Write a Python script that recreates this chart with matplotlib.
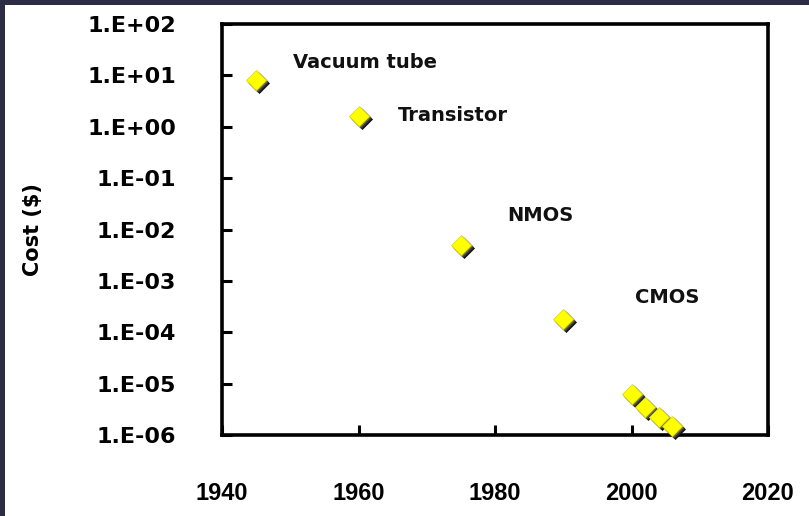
import matplotlib
matplotlib.use("Agg")
import matplotlib.pyplot as plt
import matplotlib.transforms as mtransforms
from matplotlib.patches import Rectangle
import numpy as np

# cost per device over time
years = [1945, 1960, 1975, 1990, 2000, 2002, 2004, 2006]
costs = [8.0, 1.6, 5.0e-3, 1.8e-4, 6.3e-6, 3.5e-6, 2.2e-6, 1.5e-6]

labels = ["Vacuum tube", "Transistor", "NMOS", "CMOS"]
label_x = [1950.4, 1965.8, 1981.8, 2000.5]
label_y = [18.0, 1.62, 1.9e-2, 4.7e-4]

y_ticks = [1e-6, 1e-5, 1e-4, 1e-3, 1e-2, 1e-1, 1e0, 1e1, 1e2]
y_tick_labels = ["1.E-06", "1.E-05", "1.E-04", "1.E-03", "1.E-02",
                 "1.E-01", "1.E+00", "1.E+01", "1.E+02"]
x_ticks = [1940, 1960, 1980, 2000, 2020]

fig = plt.figure(figsize=(8.09, 5.16), dpi=100)
fig.patch.set_facecolor("white")

# dark frame strips along the top and left edge
border = "#2c2d44"
fig.patches.append(Rectangle((0, 1 - 5 / 516), 1, 5 / 516, transform=fig.transFigure,
                             facecolor=border, edgecolor="none", zorder=10))
fig.patches.append(Rectangle((0, 0), 5 / 809, 1, transform=fig.transFigure,
                             facecolor=border, edgecolor="none", zorder=10))

ax = fig.add_axes([222 / 809, 1 - 435 / 516, (768 - 222) / 809, (435 - 24) / 516])
ax.set_yscale("log")
ax.set_xlim(1940, 2020)
ax.set_ylim(1e-6, 1e2)

# extruded diamonds: dark copies shifted down-right, yellow face on top
ms = 10
for dx, dy, col in [(3.0, -3.0, "#111111"), (2.0, -2.0, "#333333"), (1.0, -1.0, "#666666")]:
    off = mtransforms.offset_copy(ax.transData, fig=fig, x=dx, y=dy, units="dots")
    ax.plot(years, costs, linestyle="none", marker="D", markersize=ms,
            markerfacecolor=col, markeredgecolor=col, markeredgewidth=0.5,
            transform=off, clip_on=False, zorder=3)
ax.plot(years, costs, linestyle="none", marker="D", markersize=ms,
        markerfacecolor="#ffff00", markeredgecolor="#e0e000", markeredgewidth=0.6,
        clip_on=False, zorder=4)

for txt, tx, ty in zip(labels, label_x, label_y):
    ax.text(tx, ty, txt, fontsize=14, fontweight="bold", ha="left", va="center",
            color="#111111")

ax.set_yticks(y_ticks)
ax.set_yticklabels(y_tick_labels, fontsize=16, fontweight="bold")
ax.yaxis.set_minor_locator(matplotlib.ticker.NullLocator())
ax.set_xticks(x_ticks)
ax.set_xticklabels([str(x) for x in x_ticks], fontsize=17, fontweight="bold",
                   family=["Liberation Sans Narrow", "Liberation Sans"])

ax.tick_params(axis="y", direction="in", length=7, width=2.2, pad=33,
               left=True, right=False)
ax.tick_params(axis="x", direction="in", length=7, width=2.2, pad=34,
               bottom=True, top=False)
for s in ax.spines.values():
    s.set_linewidth(2.6)
    s.set_color("black")

ax.set_ylabel("Cost ($)", fontsize=15, fontweight="bold")
ax.yaxis.set_label_coords(-0.328, 0.5)

fig.savefig("out.png", dpi=100, facecolor=fig.get_facecolor())
